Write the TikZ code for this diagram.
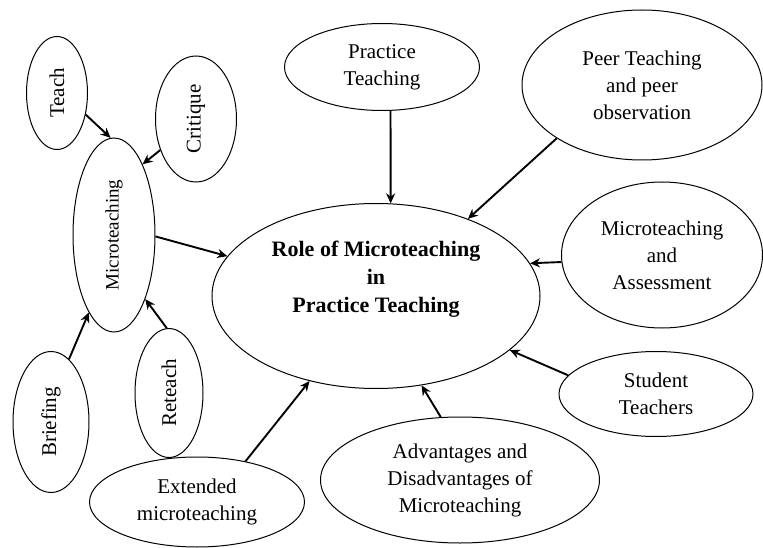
\documentclass[tikz,border=0pt]{standalone}
\usepackage{fontspec}
\setmainfont{Liberation Serif}
\usetikzlibrary{shapes.geometric,arrows.meta}
\begin{document}
\begin{tikzpicture}[x=1pt,y=1pt,
  ell/.style={draw,ellipse,line width=1pt,inner sep=0pt,align=center,
    font=\fontsize{21}{27}\selectfont},
  arr/.style={line width=1.9pt,-{Stealth[length=10pt,width=9pt]}}]
\useasboundingbox[fill=white] (0,0) rectangle (763,-548);

% left cluster
\node[ell,minimum width=61pt,minimum height=113pt] (teach) at (57,-93) {\rotatebox{90}{Teach}};
\node[ell,minimum width=81pt,minimum height=126pt] (critique) at (196,-119) {\rotatebox{90}{Critique}};
\node[ell,minimum width=82pt,minimum height=194pt,font=\fontsize{19}{22}\selectfont] (micro) at (114,-235) {\rotatebox{90}{Microteaching}};
\node[ell,minimum width=76pt,minimum height=141pt] (briefing) at (51,-422) {\rotatebox{90}{Briefing}};
\node[ell,minimum width=68pt,minimum height=129pt] (reteach) at (169,-393) {\rotatebox{90}{Reteach}};
\node[ell,minimum width=215pt,minimum height=90pt] (extended) at (197,-502) {Extended\\microteaching};

% top and right
\node[ell,minimum width=195pt,minimum height=87pt] (practice) at (382,-67) {Practice\\Teaching};
\node[ell,minimum width=240pt,minimum height=150pt] (peer) at (642,-85) {Peer Teaching\\and peer\\observation};
\node[ell,minimum width=201pt,minimum height=146pt] (assess) at (662,-255) {Microteaching\\and\\Assessment};
\node[ell,minimum width=194pt,minimum height=85pt] (student) at (656,-394) {Student\\Teachers};
\node[ell,minimum width=279pt,minimum height=126pt] (adv) at (460,-480) {Advantages and\\Disadvantages of\\Microteaching};

% centre
\node[ell,minimum width=328pt,minimum height=185pt] (central) at (376,-296) {};
\node[align=center,inner sep=0pt,font=\fontsize{22}{28}\selectfont\bfseries] (centraltext) at (376,-279)
  {Role of Microteaching\\in\\Practice Teaching};

% connectors
\draw[arr] (teach.-37) -- (micro.92);
\draw[arr] (critique.-139) -- (micro.68);
\draw[arr] (micro.-2) -- (central.165);
\draw[arr] (reteach.92) -- (micro.-64);
\draw[arr] (briefing.74) -- (micro.-108);
\draw[arr] (extended.40) -- (central.-128);
\draw[arr] (practice.-79.5) -- (central.81.4);
\draw[arr] (peer.-148) -- (central.40);
\draw[arr] (assess.184) -- (central.12);
\draw[arr] (student.168) -- (central.-22);
\draw[arr] (adv.107) -- (central.-63);
\end{tikzpicture}
\end{document}
